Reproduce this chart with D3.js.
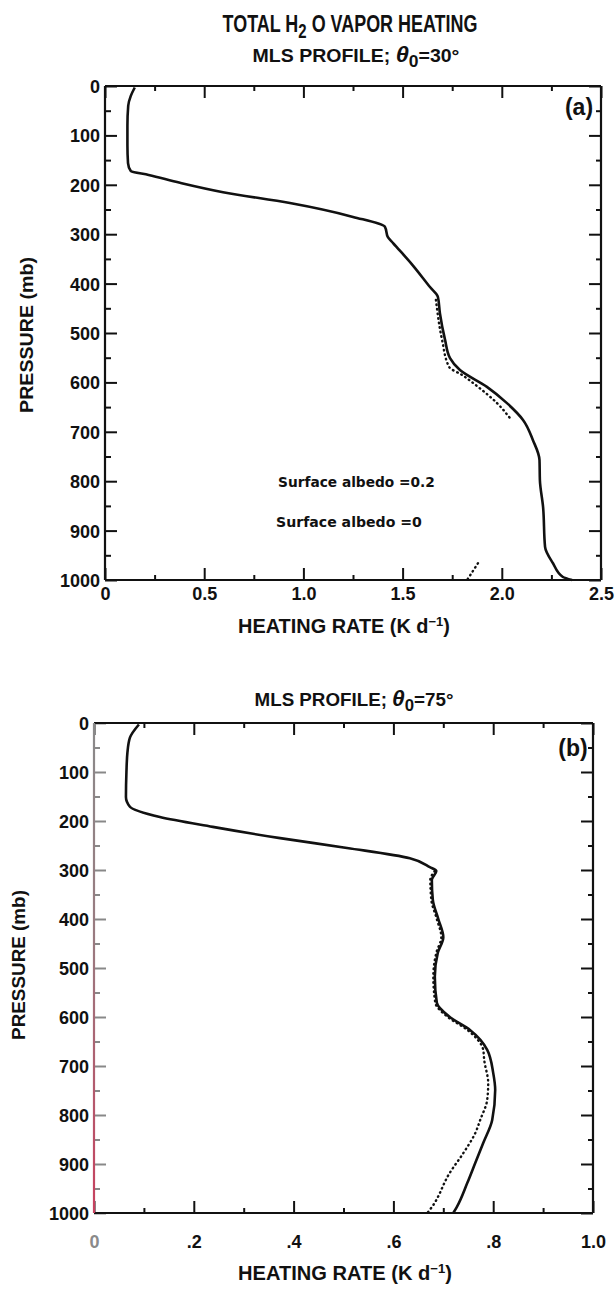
<!DOCTYPE html>
<html><head><meta charset="utf-8">
<script src="https://cdn.jsdelivr.net/npm/d3@7"></script>
<style>body{margin:0;background:#fff} svg{display:block}</style>
</head><body>
<svg id="c" width="615" height="1290"></svg>
<script>
// ---------------- DATA ----------------
// Panel (a): theta0 = 30 deg
const pressA_alb02 = [3, 20, 40, 80, 120, 156, 172, 180, 196, 215, 237, 265, 285, 306, 318, 360, 407, 427, 460, 514, 551, 575, 609, 642, 676, 717, 757, 798, 852, 933, 966, 994, 1000];
const heatA_alb02  = [0.15, 0.13, 0.117, 0.113, 0.113, 0.116, 0.13, 0.22, 0.378, 0.595, 0.932, 1.25, 1.411, 1.426, 1.452, 1.545, 1.638, 1.678, 1.688, 1.714, 1.739, 1.789, 1.925, 2.026, 2.107, 2.157, 2.19, 2.192, 2.208, 2.218, 2.258, 2.308, 2.354];
const pressA_alb0  = [433, 514, 569, 585, 609, 642, 672, 800, 966, 1000];
const heatA_alb0   = [1.668, 1.699, 1.735, 1.80, 1.88, 1.976, 2.041, null, 1.88, 1.825];
// Panel (b): theta0 = 75 deg
const pressB_alb02 = [3, 30, 60, 100, 151, 171, 192, 212, 235, 255, 276, 294, 302, 320, 361, 400, 437, 469, 518, 571, 600, 627, 667, 714, 749, 810, 857, 898, 939, 988, 1000];
const heatB_alb02  = [0.09, 0.072, 0.067, 0.065, 0.064, 0.072, 0.132, 0.238, 0.373, 0.507, 0.633, 0.673, 0.686, 0.677, 0.679, 0.69, 0.70, 0.689, 0.683, 0.687, 0.713, 0.754, 0.788, 0.80, 0.804, 0.798, 0.78, 0.764, 0.748, 0.727, 0.72];
const pressB_alb0  = [302, 320, 361, 400, 437, 469, 518, 571, 600, 627, 667, 688, 735, 769, 810, 837, 878, 918, 988, 1000];
const heatB_alb0   = [0.683, 0.674, 0.676, 0.687, 0.696, 0.686, 0.68, 0.684, 0.709, 0.749, 0.78, 0.782, 0.79, 0.788, 0.774, 0.764, 0.74, 0.713, 0.677, 0.668];
// Ticks
const pressTicks = [0, 100, 200, 300, 400, 500, 600, 700, 800, 900, 1000];
const pressLabels = ["0", "100", "200", "300", "400", "500", "600", "700", "800", "900", "1000"];
const pressMinor = [50, 150, 250, 350, 450, 550, 650, 750, 850, 950];
const heatTicksA = [0, 0.5, 1.0, 1.5, 2.0, 2.5];
const heatMinorA = [0.25, 0.75, 1.25, 1.75, 2.25];
const heatLabelsA = ["0", "0.5", "1.0", "1.5", "2.0", "2.5"];
const heatTicksB = [0, 0.2, 0.4, 0.6, 0.8, 1.0];
const heatMinorB = [0.1, 0.3, 0.5, 0.7, 0.9];
const heatLabelsB = ["0", ".2", ".4", ".6", ".8", "1.0"];
const legendLabels = ["Surface albedo =0.2", "Surface albedo =0"];

// ---------------- DRAW ----------------
const svg = d3.select("#c");
const INK = "#111";
const tickFont = "'Liberation Sans', Arial, sans-serif";
const condFont = "'Liberation Sans', Arial, sans-serif";

function zip(p, v) { return p.map((d, i) => ({p: d, v: v[i]})); }

function fitted(parent, cx, y, width, size, weight, build, rotate) {
  const g = parent.append("g");
  const t = g.append("text").attr("text-anchor", "middle")
    .style("font-family", condFont).style("font-size", size + "px")
    .style("font-weight", weight).attr("fill", INK);
  build(t);
  const w = t.node().getBBox().width;
  const sx = width / w;
  g.attr("transform", rotate
    ? `translate(${cx},${y}) rotate(-90) scale(${sx},1)`
    : `translate(${cx},${y}) scale(${sx},1)`);
  return g;
}

function panel(cfg) {
  const {left, right, top, bottom, xMax, xTicks, xMinor, xLabels} = cfg;
  const x = d3.scaleLinear().domain([0, xMax]).range([left, right]);
  const y = d3.scaleLinear().domain([0, 1000]).range([top, bottom]);
  const g = svg.append("g");

  const style = sel => {
    sel.select(".domain").remove();
    sel.selectAll("line").attr("stroke", INK).attr("stroke-width", 2);
  };
  // bottom
  const bx = g.append("g").attr("transform", `translate(0,${bottom})`)
    .call(d3.axisBottom(x).tickValues(xTicks).tickSize(-12).tickFormat((d, i) => xLabels[i]))
    .call(style);
  bx.selectAll("text").attr("y", cfg.xLabelY - bottom).attr("dy", null)
      .style("font-family", tickFont).style("font-size", "18px").style("font-weight", "bold")
      .attr("fill", (d, i) => (i === 0 && cfg.zeroGrey) ? "#8a8a8a" : INK);
  g.append("g").attr("transform", `translate(0,${bottom})`)
    .call(d3.axisBottom(x).tickValues(xMinor).tickSize(-5).tickFormat("")).call(style);
  // top
  g.append("g").attr("transform", `translate(0,${top})`)
    .call(d3.axisTop(x).tickValues(xTicks).tickSize(-12).tickFormat("")).call(style);
  g.append("g").attr("transform", `translate(0,${top})`)
    .call(d3.axisTop(x).tickValues(xMinor).tickSize(-5).tickFormat("")).call(style);
  // left
  const lc = cfg.leftColor || INK;
  g.append("g").attr("transform", `translate(${left},0)`)
    .call(d3.axisLeft(y).tickValues(pressTicks).tickSize(-12).tickPadding(5).tickFormat((d, i) => pressLabels[i]))
    .call(style)
    .call(s => s.selectAll("line").attr("stroke", lc))
    .call(s => s.selectAll("text").attr("dy", "0.36em")
      .style("font-family", tickFont).style("font-size", "18px").style("font-weight", "bold").attr("fill", INK));
  g.append("g").attr("transform", `translate(${left},0)`)
    .call(d3.axisLeft(y).tickValues(pressMinor).tickSize(-6).tickFormat("")).call(style)
    .call(s => s.selectAll("line").attr("stroke", lc));
  // right
  g.append("g").attr("transform", `translate(${right},0)`)
    .call(d3.axisRight(y).tickValues(pressTicks).tickSize(-12).tickFormat("")).call(style);
  g.append("g").attr("transform", `translate(${right},0)`)
    .call(d3.axisRight(y).tickValues(pressMinor).tickSize(-5).tickFormat("")).call(style);

  // frame
  g.append("line").attr("x1", left).attr("x2", right).attr("y1", top).attr("y2", top).attr("stroke", INK).attr("stroke-width", 2.2);
  g.append("line").attr("x1", left).attr("x2", right).attr("y1", bottom).attr("y2", bottom).attr("stroke", INK).attr("stroke-width", 2.2);
  g.append("line").attr("x1", right).attr("x2", right).attr("y1", top).attr("y2", bottom).attr("stroke", INK).attr("stroke-width", 2.2);
  g.append("line").attr("x1", left).attr("x2", left).attr("y1", top).attr("y2", bottom)
    .attr("stroke", cfg.leftStroke || INK).attr("stroke-width", 2.2);

  // curves
  const line = d3.line().defined(d => d.v != null).x(d => x(d.v)).y(d => y(d.p)).curve(d3.curveMonotoneY);
  g.append("path").datum(zip(cfg.pSolid, cfg.vSolid)).attr("d", line)
    .attr("fill", "none").attr("stroke", INK).attr("stroke-width", 2.6).attr("stroke-linejoin", "round");
  g.append("path").datum(zip(cfg.pDot, cfg.vDot)).attr("d", line)
    .attr("fill", "none").attr("stroke", INK).attr("stroke-width", 2.4)
    .attr("stroke-dasharray", "0.6,4").attr("stroke-linecap", "round");

  return {x, y, g};
}

// gradient for the scanned (b) left axis
const defs = svg.append("defs");
const grad = defs.append("linearGradient").attr("id", "lg")
  .attr("gradientUnits", "userSpaceOnUse").attr("x1", 0).attr("x2", 0).attr("y1", 723).attr("y2", 1213);
grad.append("stop").attr("offset", "0").attr("stop-color", "#8a8a8a");
grad.append("stop").attr("offset", "0.45").attr("stop-color", "#9a7a80");
grad.append("stop").attr("offset", "1").attr("stop-color", "#c8405e");

panel({left: 105, right: 601, top: 86, bottom: 580, xMax: 2.5,
  xTicks: heatTicksA, xMinor: heatMinorA, xLabels: heatLabelsA, xLabelY: 600,
  pSolid: pressA_alb02, vSolid: heatA_alb02, pDot: pressA_alb0, vDot: heatA_alb0});

panel({left: 94, right: 593, top: 723, bottom: 1213, xMax: 1.0,
  xTicks: heatTicksB, xMinor: heatMinorB, xLabels: heatLabelsB, xLabelY: 1248,
  leftColor: "#888", leftStroke: "url(#lg)", zeroGrey: true,
  pSolid: pressB_alb02, vSolid: heatB_alb02, pDot: pressB_alb0, vDot: heatB_alb0});

// Titles
fitted(svg, 350, 32, 255, 24, "bold", t => {
  t.append("tspan").text("TOTAL H");
  t.append("tspan").attr("dy", 6).style("font-size", "20px").text("2");
  t.append("tspan").attr("dy", -6).text(" O VAPOR HEATING");
});
function subtitle(cx, y, w, ang) {
  fitted(svg, cx, y, w, 19, "bold", t => {
    t.append("tspan").text("MLS PROFILE;  ");
    t.append("tspan").style("font-style", "italic").style("font-size", "23px").text("θ");
    t.append("tspan").attr("dy", 5).style("font-size", "17px").text("0");
    t.append("tspan").attr("dy", -5).text("=" + ang + "°");
  });
}
subtitle(356, 62, 207, 30);
subtitle(354, 706, 199, 75);

// Axis titles
function xTitle(cx, y, w) {
  fitted(svg, cx, y, w, 20, "bold", t => {
    t.append("tspan").text("HEATING RATE  (K d");
    t.append("tspan").attr("dy", -7).style("font-size", "13px").text("−1");
    t.append("tspan").attr("dy", 7).text(")");
  });
}
xTitle(344, 633, 212);
xTitle(345, 1280, 214);
fitted(svg, 33, 335, 156, 19, "bold", t => t.text("PRESSURE  (mb)"), true);
fitted(svg, 25, 965, 150, 19, "bold", t => t.text("PRESSURE  (mb)"), true);

// Panel letters
svg.append("text").attr("x", 579).attr("y", 115).attr("text-anchor", "middle")
  .style("font-family", tickFont).style("font-size", "23px").style("font-weight", "bold").attr("fill", INK).text("(a)");
svg.append("text").attr("x", 573).attr("y", 756).attr("text-anchor", "middle")
  .style("font-family", tickFont).style("font-size", "23px").style("font-weight", "bold").attr("fill", INK).text("(b)");

// Legend texts
function legendText(x0, y, w, s) {
  const g = svg.append("g");
  const t = g.append("text").style("font-family", "'DejaVu Sans', sans-serif").style("font-size", "14.5px")
    .style("font-weight", "bold").attr("fill", INK).text(s);
  const bw = t.node().getBBox().width;
  g.attr("transform", `translate(${x0},${y}) scale(${w / bw},1)`);
}
legendText(278, 487, 157, legendLabels[0]);
legendText(276, 527, 146, legendLabels[1]);
</script>
</body></html>
